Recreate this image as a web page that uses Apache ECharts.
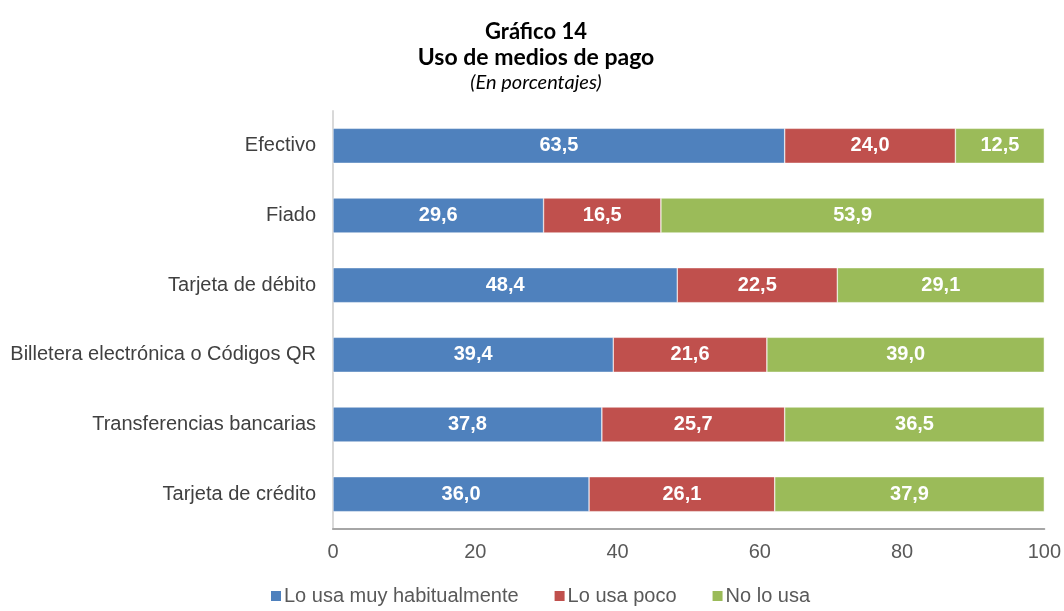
<!DOCTYPE html>
<html>
<head>
<meta charset="utf-8">
<script src="https://cdn.jsdelivr.net/npm/echarts@6/dist/echarts.min.js"></script>
<style>
  html, body { margin: 0; padding: 0; background: #fff; }
  #myChart { width: 1064px; height: 611px; }
</style>
</head>
<body>
<div id="myChart"></div>
<script>
// datos del gráfico
const categorias = ['Efectivo', 'Fiado', 'Tarjeta de débito', 'Billetera electrónica o Códigos QR', 'Transferencias bancarias', 'Tarjeta de crédito'];
const muyHabitual = [63.5, 29.6, 48.4, 39.4, 37.8, 36.0];
const usaPoco = [24.0, 16.5, 22.5, 21.6, 25.7, 26.1];
const noUsa = [12.5, 53.9, 29.1, 39.0, 36.5, 37.9];
const ticks = [0, 20, 40, 60, 80, 100];

const myChart = echarts.init(document.getElementById('myChart'));

const etiqueta = {
  show: true,
  position: 'inside',
  color: '#fff',
  fontFamily: 'Liberation Sans, Arial',
  fontWeight: 'bold',
  fontSize: 20,
  formatter: p => p.value.toFixed(1).replace('.', ',')
};

function serie(nombre, datos, color) {
  return {
    name: nombre,
    type: 'bar',
    stack: 'total',
    barWidth: 35,
    data: datos,
    itemStyle: { color: color, borderColor: '#fff', borderWidth: 0.5 },
    label: etiqueta
  };
}

const option = {
  animation: false,
  title: [
    { text: 'Gráfico 14', left: 531, top: 16, textAlign: 'center',
      textStyle: { fontFamily: 'Lato', fontWeight: 'bold', fontSize: 22, color: '#000' } },
    { text: 'Uso de medios de pago', left: 531, top: 41, textAlign: 'center',
      textStyle: { fontFamily: 'Lato', fontWeight: 'bold', fontSize: 23, color: '#000' } },
    { text: '(En porcentajes)', left: 531, top: 68, textAlign: 'center',
      textStyle: { fontFamily: 'Lato', fontStyle: 'italic', fontWeight: 'normal', fontSize: 20, color: '#000' } }
  ],
  legend: {
    bottom: 0,
    left: 264,
    itemWidth: 12,
    itemHeight: 12,
    itemGap: 34,
    icon: 'rect',
    textStyle: { fontFamily: 'Liberation Sans, Arial', fontSize: 20, color: '#595959', padding: [0, 0, 0, -3] },
    data: ['Lo usa muy habitualmente', 'Lo usa poco', 'No lo usa']
  },
  grid: { left: 333, right: 19, top: 111, bottom: 82 },
  xAxis: {
    type: 'value',
    min: ticks[0],
    max: ticks[ticks.length - 1],
    interval: 20,
    splitLine: { show: false },
    axisLine: { show: true, lineStyle: { color: '#a6a6a6', width: 2 } },
    axisTick: { show: false },
    axisLabel: { fontFamily: 'Liberation Sans, Arial', fontSize: 20, color: '#595959', margin: 13 }
  },
  yAxis: {
    type: 'category',
    inverse: true,
    data: categorias,
    axisLine: { show: true, lineStyle: { color: '#d9d9d9', width: 2 } },
    axisTick: { show: false },
    axisLabel: { fontFamily: 'Liberation Sans, Arial', fontSize: 20, color: '#404040', margin: 17 }
  },
  series: [
    serie('Lo usa muy habitualmente', muyHabitual, '#4f81bd'),
    serie('Lo usa poco', usaPoco, '#c0504d'),
    serie('No lo usa', noUsa, '#9bbb59')
  ]
};

myChart.setOption(option);
</script>
</body>
</html>
